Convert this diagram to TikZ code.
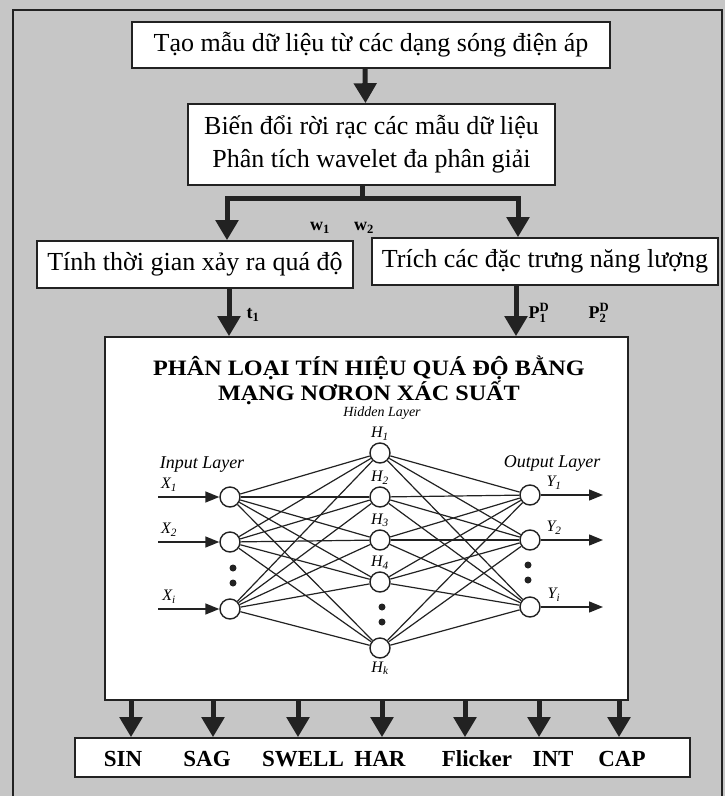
\documentclass[tikz,border=0pt]{standalone}
\usepackage{amsmath}
\usepackage{graphicx}
\usepackage{fontspec}
\setmainfont{Liberation Serif}
\usetikzlibrary{arrows.meta,positioning,calc}
\definecolor{paper}{HTML}{C6C6C6}
\definecolor{ink}{HTML}{222222}
\tikzset{
  sbox/.style={draw=ink,fill=white,line width=1.6pt,inner sep=0pt,align=center,font=\fontsize{26}{33}\selectfont},
  sarr/.style={-{Triangle[length=20pt,width=22pt]},line width=5pt,draw=ink},
  sline/.style={line width=5pt,draw=ink},
  sneur/.style={circle,draw=ink,fill=white,line width=1.4pt,minimum size=20pt,inner sep=0pt},
  slink/.style={line width=1.2pt,draw=ink},
  sio/.style={-{Triangle[length=14pt,width=11pt]},line width=1.4pt,draw=ink},
  sdot/.style={circle,fill=ink,minimum size=7pt,inner sep=0pt},
  slab/.style={font=\fontsize{16}{16}\selectfont,inner sep=0pt},
  slayer/.style={font=\fontsize{18}{18}\selectfont\itshape,inner sep=0pt},
  sval/.style={font=\fontsize{18}{18}\selectfont,inner sep=0pt},
  sout/.style={font=\fontsize{23}{23}\selectfont\bfseries,inner sep=0pt}
}

\begin{document}
\begin{tikzpicture}[x=1pt,y=-1pt]
  \useasboundingbox (0,0) rectangle (725,796);
  \clip (0,0) rectangle (725,796);
  \fill[paper] (0,0) rectangle (725,796);
  \draw[ink,line width=1.4pt] (13,10) rectangle (722,810);

  % processing chain
  \node[sbox,minimum width=478pt,minimum height=46pt] (b1) at (371,45) {Tạo mẫu dữ liệu từ các dạng sóng điện áp};
  \node[sbox,minimum width=367pt,minimum height=81pt] (b2) at (371.5,144.5) {Biến đổi rời rạc các mẫu dữ liệu\\Phân tích wavelet đa phân giải};
  \node[sbox,minimum width=316pt,minimum height=47pt] (b3) at (195,264.5) {Tính thời gian xảy ra quá độ};
  \node[sbox,minimum width=346pt,minimum height=47pt] (b4) at (545,261.5) {Trích các đặc trưng năng lượng};
  \node[sbox,minimum width=523pt,minimum height=363pt] (nn) at (366.5,518.5) {};
  \node[sbox,minimum width=615pt,minimum height=39pt] (out) at (382.5,757.5) {};
  \coordinate (jn) at (362,198);

  \draw[sarr] ([xshift=-6pt]b1.south) -- ([xshift=-6pt]b2.north);
  \draw[sline] (b2.south -| jn) -- (jn);
  \draw[sarr] (jn) -| ([xshift=32pt]b3.north);
  \draw[sarr] (jn) -| ([xshift=-27pt]b4.north);
  \draw[sarr] ([xshift=34pt]b3.south) -- ([xshift=34pt]b3.south |- nn.north);
  \draw[sarr] ([xshift=-29pt]b4.south) -- ([xshift=-29pt]b4.south |- nn.north);

  \node[sval] (w1) at (320,228) {$\textbf{w}_{\textbf{1}}$};
  \node[sval] (w2) at (364,228) {$\textbf{w}_{\textbf{2}}$};
  \node[sval] (t1) at (253,315) {$\textbf{t}_{\textbf{1}}$};
  \node[sval] (p1) at (539,313) {$\textbf{P}_{\textbf{1}}^{\textbf{D}}$};
  \node[sval] (p2) at (599,313) {$\textbf{P}_{\textbf{2}}^{\textbf{D}}$};

  % probabilistic neural network
  \node[font=\fontsize{22}{25}\selectfont\bfseries,align=center,inner sep=0pt] (ttl) at (369,380)
    {\scalebox{1.1}[1]{PHÂN LOẠI TÍN HIỆU QUÁ ĐỘ BẰNG}\\\scalebox{1.1}[1]{MẠNG NƠRON XÁC SUẤT}};
  \node[slayer,font=\fontsize{14}{14}\selectfont\itshape] (hlay) at (382,413) {Hidden Layer};
  \node[slayer] (ilay) at (202,465) {Input Layer};
  \node[slayer] (olay) at (552,463) {Output Layer};

  \foreach \n/\y in {1/453,2/497,3/540,4/582,k/648}
    \node[sneur] (h\n) at (380,\y) {};
  \foreach \n/\y in {1/497,2/542,i/609}
    \node[sneur] (x\n) at (230,\y) {};
  \foreach \n/\y in {1/495,2/540,i/607}
    \node[sneur] (y\n) at (530,\y) {};

  \foreach \a in {1,2,i}
    \foreach \b in {1,2,3,4,k}
      \draw[slink] (x\a) -- (h\b);
  \foreach \b in {1,2,3,4,k}
    \foreach \c in {1,2,i}
      \draw[slink] (h\b) -- (y\c);

  \foreach \n in {1,2,3,4}
    \node[slab,above=2pt of h\n] (hl\n) {$\textit{H}_{\textit{\n}}$};
  \node[slab,below=3pt of hk] (hlk) {$\textit{H}_{\textit{k}}$};

  \foreach \n/\y in {1/497,2/542,i/609} {
    \coordinate (xa\n) at (158,\y);
    \draw[sio] (xa\n) -- (x\n);
    \node[slab] (xl\n) at (169,\y-12) {$\textit{X}_{\textit{\n}}$};
  }
  \foreach \n/\y in {1/495,2/540,i/607} {
    \coordinate (ya\n) at (603,\y);
    \draw[sio] (y\n) -- (ya\n);
    \node[slab] (yl\n) at (554,\y-12) {$\textit{Y}_{\textit{\n}}$};
  }

  \node[sdot] (dx1) at (233,568) {};
  \node[sdot] (dx2) at (233,583) {};
  \node[sdot] (dh1) at (382,607) {};
  \node[sdot] (dh2) at (382,622) {};
  \node[sdot] (dy1) at (528,565) {};
  \node[sdot] (dy2) at (528,580) {};

  % classes
  \foreach \x in {131,213,298,382,465,539,619}
    \draw[sarr] (nn.south -| \x,0) -- (out.north -| \x,0);
  \foreach \x/\t [count=\i] in {123/SIN,207/SAG,303/SWELL,380/HAR,477/Flicker,553/INT,622/CAP}
    \node[sout] (o\i) at (\x,759) {\t};
\end{tikzpicture}
\end{document}
